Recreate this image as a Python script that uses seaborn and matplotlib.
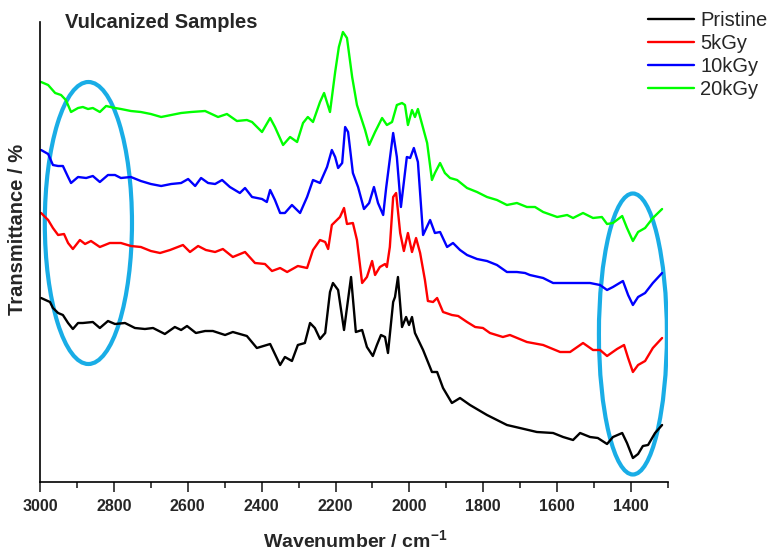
import numpy as np
import pandas as pd
import seaborn as sns
import matplotlib
matplotlib.use("Agg")
import matplotlib.pyplot as plt
from matplotlib.patches import Ellipse
from matplotlib.ticker import MultipleLocator

#%% data (wavenumber / cm-1, transmittance in arbitrary offset units)

wn_pristine = [2997, 2973, 2965, 2951, 2938, 2924, 2911, 2897, 2884, 2857, 2838, 2816, 2797, 2770,
               2743, 2716, 2694, 2662, 2635, 2618, 2602, 2578, 2553, 2532, 2499, 2478, 2440, 2413,
               2377, 2350, 2337, 2318, 2302, 2283, 2269, 2256, 2242, 2228, 2215, 2207, 2193, 2177,
               2158, 2145, 2128, 2115, 2099, 2088, 2077, 2066, 2058, 2044, 2039, 2031, 2020, 2009,
               2001, 1993, 1985, 1963, 1939, 1925, 1909, 1885, 1863, 1836, 1790, 1736, 1701, 1655,
               1611, 1584, 1557, 1538, 1511, 1490, 1465, 1449, 1424, 1411, 1395, 1381, 1368, 1354,
               1335, 1316]
tr_pristine = [184, 180, 174, 169, 167, 159, 153, 159, 159, 160, 154, 161, 158, 159,
               154, 153, 154, 148, 155, 152, 156, 149, 151, 151, 147, 150, 146, 134,
               138, 117, 125, 121, 137, 139, 159, 154, 143, 149, 190, 199, 192, 152,
               205, 150, 152, 135, 126, 137, 147, 145, 129, 180, 185, 205, 155, 165,
               157, 165, 149, 132, 110, 110, 94, 79, 84, 77, 67, 57, 54, 50,
               49, 45, 42, 49, 45, 44, 38, 45, 49, 39, 24, 28, 36, 37,
               49, 57]

wn_5kgy = [2997, 2978, 2965, 2951, 2935, 2924, 2911, 2892, 2878, 2862, 2838, 2811, 2781, 2754,
           2727, 2700, 2675, 2648, 2613, 2594, 2572, 2551, 2526, 2505, 2478, 2445, 2418, 2391,
           2372, 2350, 2331, 2302, 2277, 2261, 2242, 2228, 2220, 2210, 2188, 2177, 2169, 2153,
           2142, 2128, 2115, 2101, 2093, 2080, 2066, 2061, 2053, 2044, 2036, 2025, 2015, 2004,
           1993, 1982, 1971, 1958, 1950, 1936, 1925, 1909, 1885, 1868, 1844, 1822, 1801, 1782,
           1747, 1728, 1682, 1638, 1592, 1565, 1530, 1503, 1484, 1465, 1438, 1419, 1408, 1395,
           1381, 1362, 1341, 1316]
tr_5kgy = [269, 262, 254, 247, 248, 239, 233, 242, 238, 241, 235, 239, 239, 236,
           235, 231, 229, 232, 237, 230, 236, 232, 230, 233, 225, 230, 219, 218,
           211, 214, 210, 216, 214, 232, 242, 240, 233, 257, 265, 274, 258, 259,
           242, 199, 205, 221, 207, 215, 218, 215, 235, 285, 289, 249, 231, 249,
           230, 244, 229, 202, 181, 180, 184, 170, 167, 166, 160, 155, 154, 149,
           145, 147, 140, 137, 130, 130, 139, 132, 132, 126, 133, 137, 124, 110,
           117, 121, 134, 144]

wn_10kgy = [2997, 2978, 2965, 2951, 2938, 2924, 2916, 2897, 2875, 2857, 2838, 2816, 2797, 2781,
            2754, 2727, 2700, 2672, 2645, 2618, 2599, 2580, 2564, 2545, 2526, 2507, 2486, 2459,
            2445, 2426, 2399, 2386, 2377, 2364, 2350, 2337, 2318, 2296, 2277, 2261, 2242, 2223,
            2210, 2201, 2193, 2182, 2174, 2166, 2153, 2139, 2123, 2109, 2096, 2085, 2071, 2063,
            2044, 2034, 2023, 2007, 1998, 1988, 1977, 1963, 1944, 1931, 1917, 1898, 1882, 1863,
            1844, 1817, 1790, 1763, 1736, 1709, 1687, 1674, 1638, 1611, 1565, 1538, 1511, 1484,
            1465, 1449, 1422, 1408, 1395, 1381, 1362, 1341, 1316]
tr_10kgy = [332, 328, 317, 316, 316, 305, 299, 305, 304, 306, 300, 307, 307, 304,
            305, 301, 298, 296, 298, 299, 303, 296, 304, 299, 298, 302, 295, 289,
            294, 285, 283, 280, 292, 282, 269, 269, 277, 269, 285, 302, 299, 315,
            332, 325, 314, 319, 355, 350, 309, 295, 273, 279, 295, 279, 267, 294,
            349, 325, 275, 325, 324, 334, 320, 247, 262, 249, 250, 235, 239, 232,
            227, 223, 221, 217, 210, 210, 209, 207, 204, 199, 199, 199, 199, 197,
            192, 195, 201, 187, 177, 185, 189, 199, 209]

wn_20kgy = [2997, 2978, 2959, 2943, 2930, 2916, 2897, 2884, 2870, 2857, 2838, 2821, 2797, 2781,
            2754, 2727, 2700, 2672, 2645, 2618, 2591, 2553, 2518, 2494, 2467, 2440, 2426, 2399,
            2377, 2364, 2342, 2323, 2304, 2288, 2275, 2261, 2242, 2231, 2215, 2201, 2191, 2180,
            2169, 2155, 2142, 2120, 2109, 2093, 2074, 2061, 2047, 2034, 2020, 2012, 2004, 1993,
            1985, 1977, 1963, 1952, 1939, 1931, 1917, 1904, 1890, 1871, 1844, 1817, 1790, 1763,
            1736, 1709, 1682, 1660, 1638, 1600, 1573, 1557, 1530, 1503, 1479, 1465, 1449, 1424,
            1411, 1395, 1381, 1362, 1341, 1316]
tr_20kgy = [400, 397, 389, 387, 382, 370, 374, 375, 373, 374, 370, 376, 374, 373,
            371, 370, 368, 365, 367, 369, 370, 371, 365, 368, 361, 362, 360, 350,
            364, 355, 337, 345, 340, 359, 365, 360, 380, 389, 370, 410, 435, 450,
            444, 405, 377, 352, 337, 350, 364, 357, 360, 377, 379, 377, 357, 372,
            365, 373, 354, 339, 302, 309, 319, 309, 304, 302, 294, 290, 285, 282,
            277, 279, 275, 275, 270, 265, 267, 264, 269, 264, 265, 258, 259, 266,
            254, 241, 250, 254, 264, 273]

samples = ["Pristine", "5kGy", "10kGy", "20kGy"]
colors = ["#000000", "#ff0000", "#0000ff", "#00ff00"]

df = pd.concat([
    pd.DataFrame({"wn": wn_pristine, "T": tr_pristine, "sample": "Pristine"}),
    pd.DataFrame({"wn": wn_5kgy, "T": tr_5kgy, "sample": "5kGy"}),
    pd.DataFrame({"wn": wn_10kgy, "T": tr_10kgy, "sample": "10kGy"}),
    pd.DataFrame({"wn": wn_20kgy, "T": tr_20kgy, "sample": "20kGy"}),
], ignore_index=True)

#%% plot

sns.set_style('ticks')
plt.rcParams['font.family'] = ['Liberation Sans', 'DejaVu Sans']
plt.rcParams['mathtext.fontset'] = 'custom'
plt.rcParams['mathtext.rm'] = 'Liberation Sans'
plt.rcParams['mathtext.bf'] = 'Liberation Sans:bold'

fig = plt.figure(figsize=(7.75, 5.52), dpi=100)
ax = fig.add_axes([40/775, 70/552, 628/775, 460/552])

sns.lineplot(data=df, x="wn", y="T", hue="sample", hue_order=samples, palette=colors,
             estimator=None, sort=True, linewidth=1.7, ax=ax)

# highlight ellipses
ax.add_patch(Ellipse((2869, 259), 236, 282, fill=False, edgecolor='#19ade6', linewidth=3))
ax.add_patch(Ellipse((1395, 148), 184, 281, fill=False, edgecolor='#19ade6', linewidth=3))

ax.set_xlim(3000, 1300)
ax.set_ylim(0, 460)
ax.set_xticks(range(3000, 1399, -200))
ax.xaxis.set_minor_locator(MultipleLocator(100))
ax.set_yticks([])
ax.tick_params(axis='x', which='major', length=7, width=1.2, pad=5, labelsize=11.5)
ax.tick_params(axis='x', which='minor', length=4, width=1.2)
for lab in ax.get_xticklabels():
    lab.set_fontweight('bold')
for s in ['bottom', 'left']:
    ax.spines[s].set_color('black')
    ax.spines[s].set_linewidth(1.2)
sns.despine(ax=ax)

ax.set_xlabel('')
ax.set_ylabel('')
fig.text(355/775, 1 - 541/552, r'Wavenumber / cm$^{\mathbf{-1}}$', ha='center', va='center',
         fontsize=14, fontweight='bold')
fig.text(18/775, 1 - 229/552, 'Transmittance / %', ha='center', va='center', rotation=90,
         fontsize=14.5, fontweight='bold')
fig.text(65/775, 1 - 23/552, 'Vulcanized Samples', ha='left', va='center',
         fontsize=14.5, fontweight='bold')

sns.move_legend(ax, 'upper left', bbox_to_anchor=(648/775, 1 - 11/552),
                bbox_transform=fig.transFigure, frameon=False, title=None, fontsize=14.5,
                handlelength=2.3, handletextpad=0.3, labelspacing=0.2,
                borderpad=0, borderaxespad=0)

plt.savefig('out.png', dpi=100)
